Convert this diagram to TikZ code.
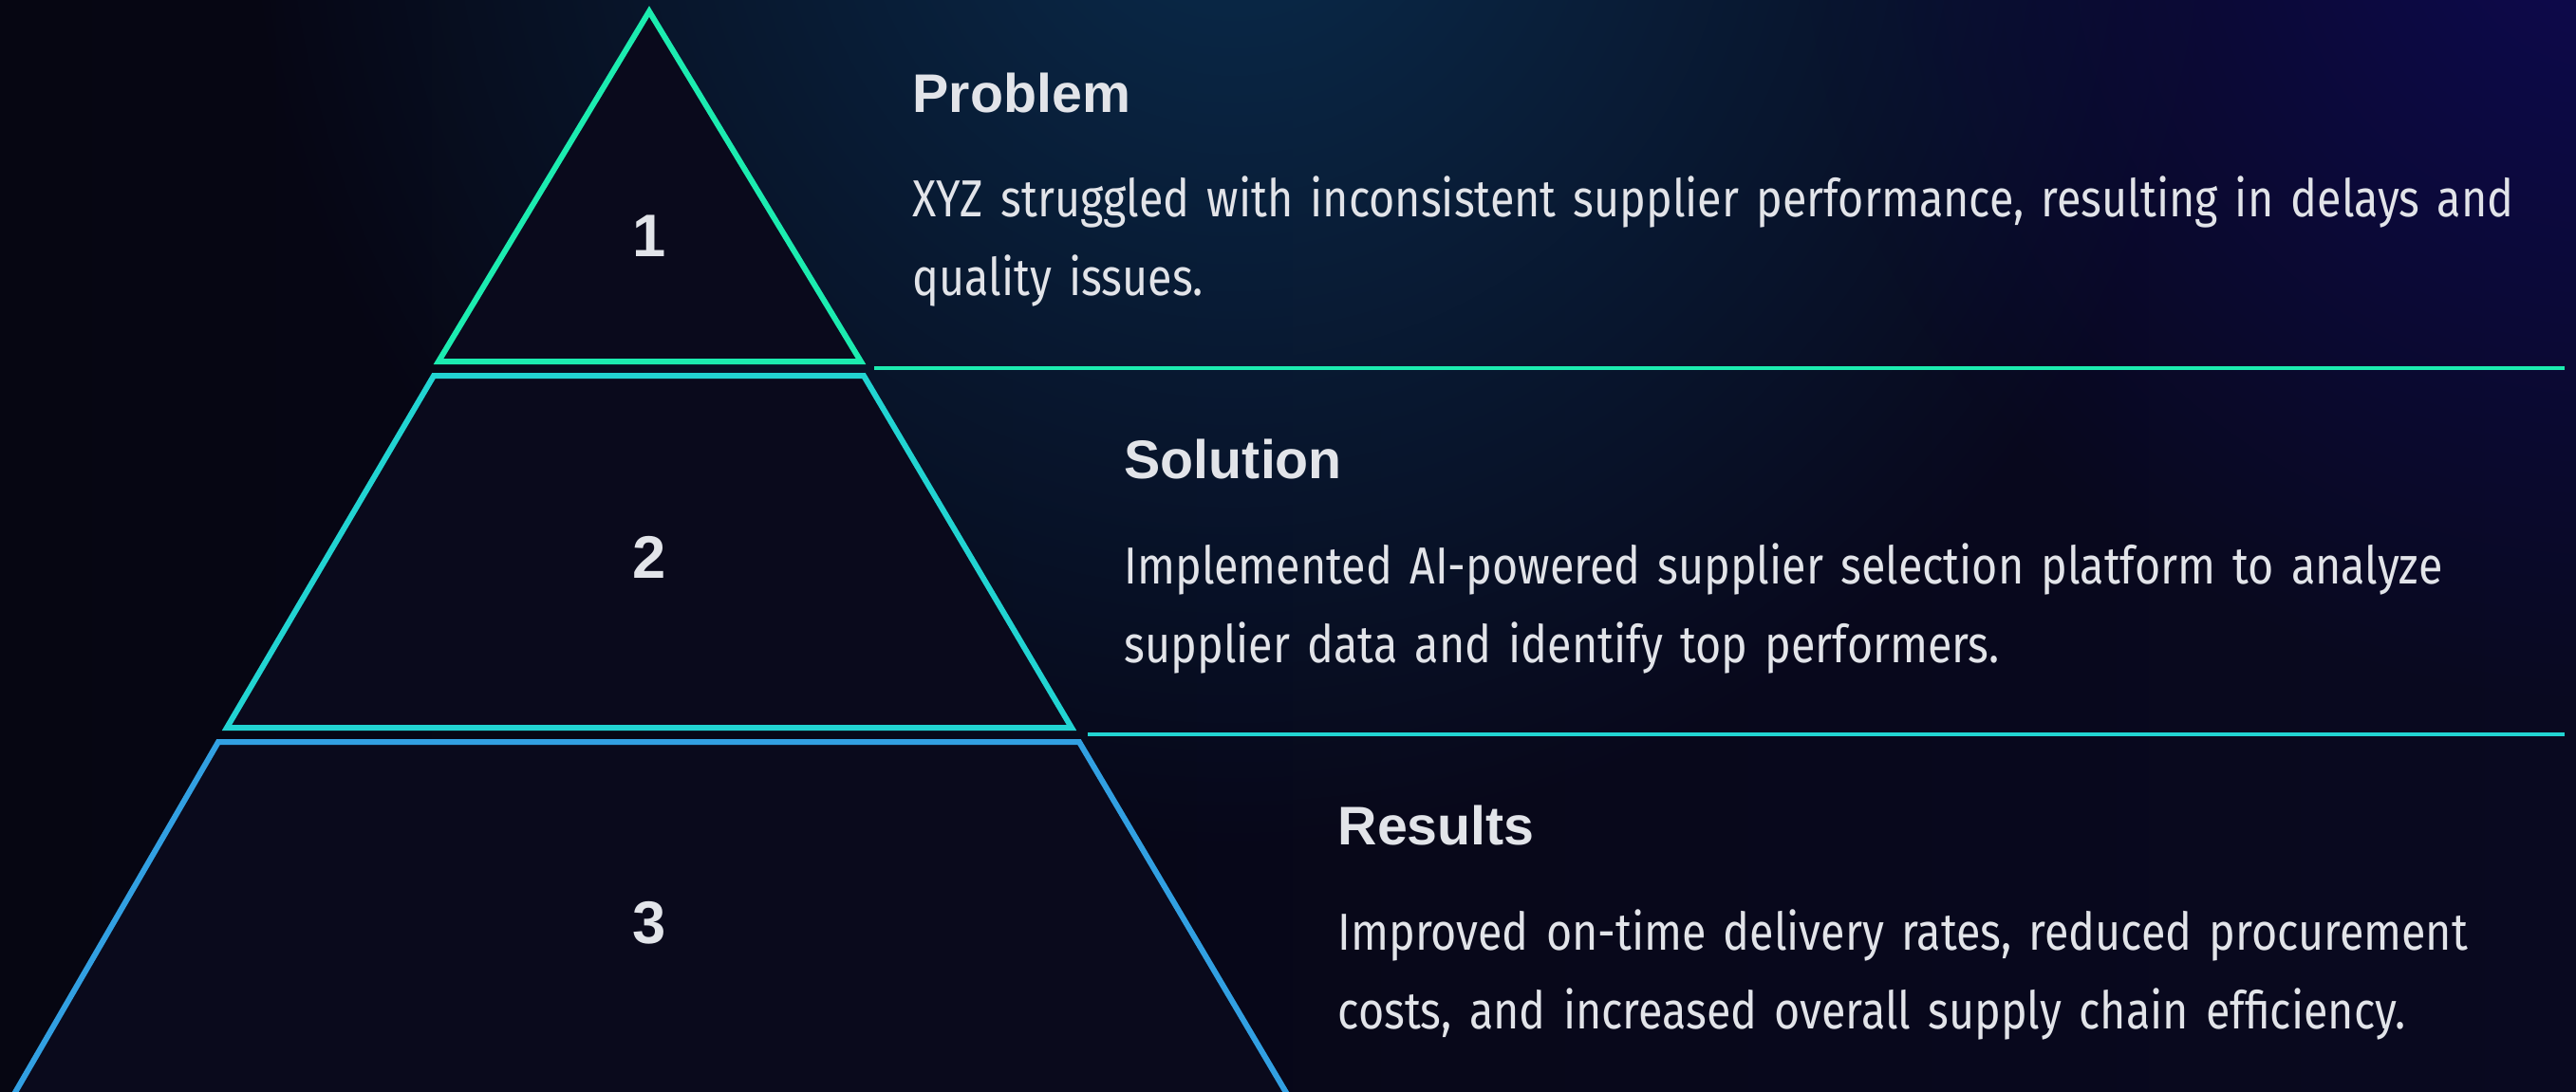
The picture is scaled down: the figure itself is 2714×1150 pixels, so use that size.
\documentclass[tikz,border=0pt]{standalone}
\usepackage{fontspec}
\setmainfont{Liberation Sans}
\newfontfamily\bodyfont[FakeStretch=0.85]{Fira Sans}
\usetikzlibrary{fadings}

\definecolor{bgdark}{RGB}{6,6,18}
\definecolor{bgright}{RGB}{9,9,32}
\definecolor{layerfill}{RGB}{10,10,28}
\definecolor{glowteal}{RGB}{10,44,76}
\definecolor{glowviolet}{RGB}{14,10,80}
\definecolor{mint}{RGB}{28,236,176}
\definecolor{aqua}{RGB}{34,212,210}
\definecolor{skyline}{RGB}{50,160,226}
\definecolor{textgray}{RGB}{226,228,233}

\tikzfading[name=softglow, inner color=transparent!0, outer color=transparent!100]

\begin{document}
\begin{tikzpicture}[x=0.01cm, y=-0.01cm,
  layer/.style={fill=layerfill, line width=1.7pt},
  sepline/.style={line width=1.1pt},
  numlabel/.style={text=textgray, font=\fontsize{18}{22}\selectfont\bfseries},
  heading/.style={anchor=base west, inner sep=0pt, text=textgray, font=\fontsize{16.3}{20}\selectfont\bfseries},
  bodytext/.style={anchor=base west, inner sep=0pt, text=textgray, align=left, text width=17cm, font=\bodyfont\fontsize{15.6}{23.6}\selectfont}]
  \useasboundingbox (0,0) rectangle (2714,1150);

  % background
  \shade[left color=bgdark, right color=bgright] (0,0) rectangle (2714,1150);
  \begin{scope}
    \clip (0,0) rectangle (2714,1150);
    \fill[glowteal, path fading=softglow] (1300,-150) circle (1050);
    \fill[glowviolet, path fading=softglow] (2750,-100) circle (850);

    % pyramid layers
    \draw[layer, draw=mint] (684,12) -- (907,381) -- (462,381) -- cycle; % top
    \draw[layer, draw=aqua] (457,396) -- (910,396) -- (1129,767) -- (239,767) -- cycle; % middle
    \draw[layer, draw=skyline] (230,782) -- (1137,782) -- (1360,1160) -- (11,1160) -- cycle; % bottom
  \end{scope}

  \node[numlabel] (n1) at (684,249) {1};
  \node[numlabel] (n2) at (684,587) {2};
  \node[numlabel] (n3) at (684,973) {3};

  \node[heading] (h1) at (961,118) {Problem};
  \node[bodytext] (b1) at (961,228) {XYZ struggled with inconsistent supplier performance, resulting in delays and\\quality issues.};

  \node[heading] (h2) at (1184,504) {Solution};
  \node[bodytext] (b2) at (1184,615) {Implemented AI-powered supplier selection platform to analyze\\supplier data and identify top performers.};

  \node[heading] (h3) at (1409,890) {Results};
  \node[bodytext] (b3) at (1409,1001) {Improved on-time delivery rates, reduced procurement\\costs, and increased overall supply chain efficiency.};

  % separator lines
  \coordinate (s1) at (921,388);
  \coordinate (e1) at (2702,388);
  \coordinate (s2) at (1146,774);
  \coordinate (e2) at (2702,774);
  \draw[sepline, mint] (s1) -- (e1);
  \draw[sepline, aqua] (s2) -- (e2);
\end{tikzpicture}
\end{document}
